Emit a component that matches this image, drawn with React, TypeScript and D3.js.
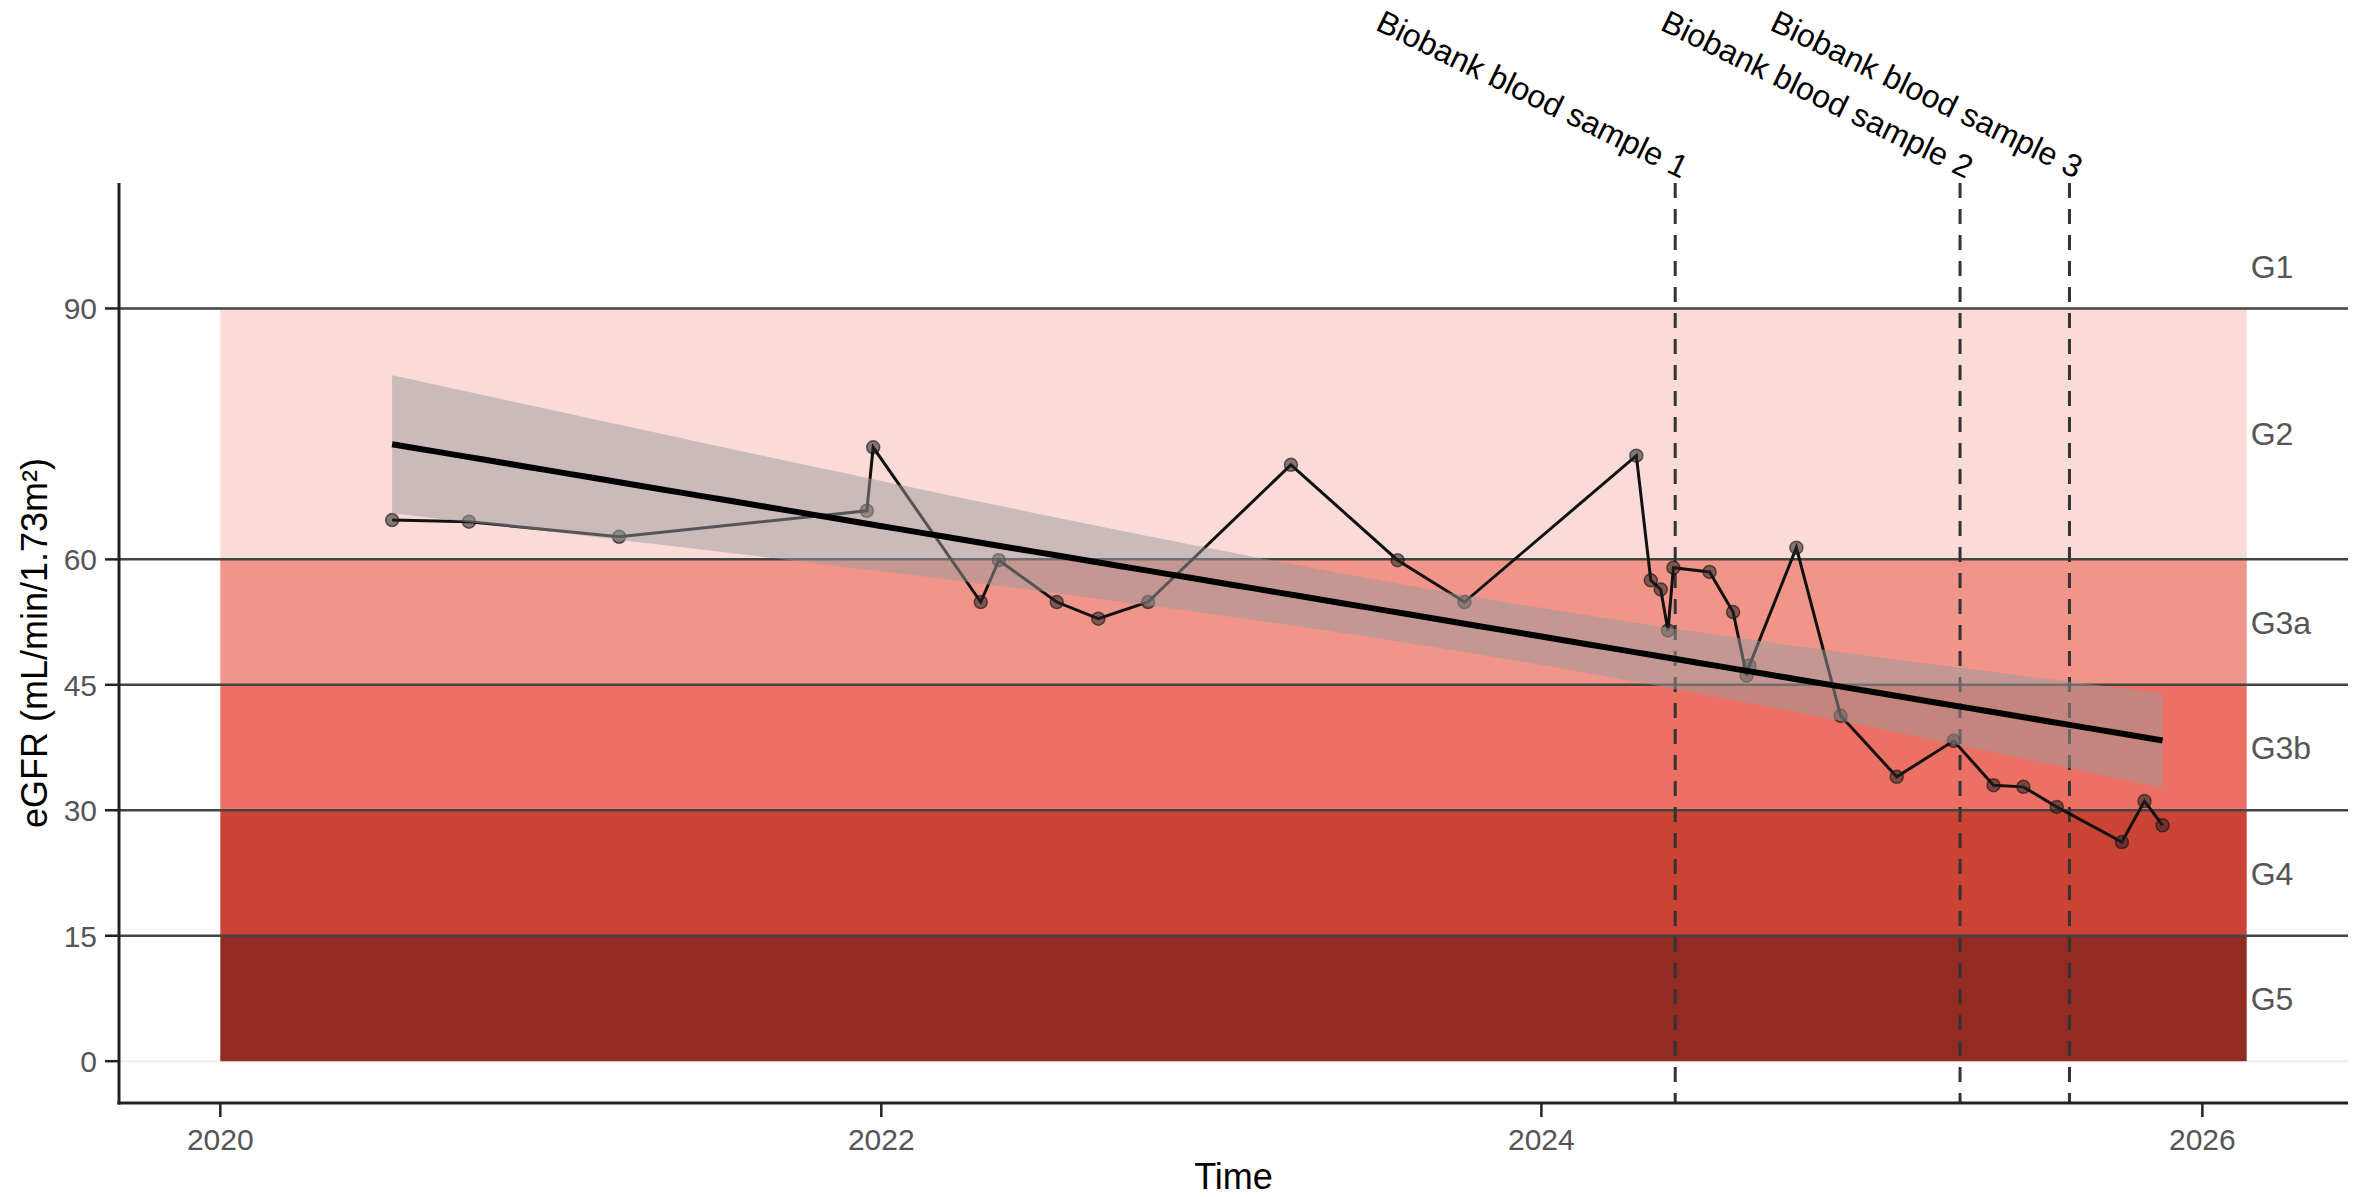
import React from "react";
import * as d3 from "d3";

// eGFR measurements (date, mL/min/1.73m²)
const DATES = [
  "2020-07-09", "2020-10-02", "2021-03-17", "2021-12-16", "2021-12-23",
  "2022-04-21", "2022-05-11", "2022-07-14", "2022-08-29", "2022-10-23",
  "2023-03-30", "2023-07-26", "2023-10-08", "2024-04-15", "2024-05-01",
  "2024-05-12", "2024-05-20", "2024-05-26", "2024-07-05", "2024-07-31",
  "2024-08-15", "2024-08-18", "2024-10-09", "2024-11-27", "2025-01-28",
  "2025-04-01", "2025-05-15", "2025-06-17", "2025-07-24", "2025-10-04",
  "2025-10-29", "2025-11-18",
];
const EGFR = [
  64.7, 64.5, 62.7, 65.8, 73.4,
  54.9, 59.9, 54.9, 52.9, 54.9,
  71.3, 59.9, 54.9, 72.4, 57.5,
  56.4, 51.5, 59.0, 58.5, 53.7,
  46.1, 47.3, 61.4, 41.3, 34.0,
  38.3, 33.0, 32.8, 30.4, 26.2,
  31.1, 28.2,
];

// CKD stage bands
const STAGES = ["G1", "G2", "G3a", "G3b", "G4", "G5"];
const STAGE_LOW = [90, 60, 45, 30, 15, 0];
const STAGE_HIGH = [100, 90, 60, 45, 30, 15];
const STAGE_COLORS = ["none", "#FADBD8", "#F1948A", "#EC7063", "#CB4335", "#922B21"];
const BAND_START = "2020-01-01";
const BAND_END = "2026-02-19";
const STAGE_LINES = [15, 30, 45, 60, 90];

const SAMPLE_DATES = ["2024-05-28", "2025-04-08", "2025-08-07"];
const SAMPLE_LABELS = [
  "Biobank blood sample 1",
  "Biobank blood sample 2",
  "Biobank blood sample 3",
];

const Y_TICKS = [0, 15, 30, 45, 60, 90];

const W = 2366;
const H = 1197;
const margin = { top: 183, right: 18, bottom: 94, left: 119 };
const FONT = "Liberation Sans, Arial, Helvetica, sans-serif";
const T_975 = 2.042; // t quantile, df = n - 2 = 30

const parse = d3.timeParse("%Y-%m-%d");
const YEAR_MS = 365.25 * 24 * 3600 * 1000;

function fitLm(xs: number[], ys: number[]) {
  const n = xs.length;
  const mx = d3.mean(xs) as number;
  const my = d3.mean(ys) as number;
  let sxx = 0, sxy = 0;
  for (let i = 0; i < n; i++) {
    sxx += (xs[i] - mx) ** 2;
    sxy += (xs[i] - mx) * (ys[i] - my);
  }
  const b = sxy / sxx;
  const a = my - b * mx;
  let sse = 0;
  for (let i = 0; i < n; i++) sse += (ys[i] - a - b * xs[i]) ** 2;
  const s = Math.sqrt(sse / (n - 2));
  return { a, b, s, mx, sxx, n };
}

const App = () => {
  const data = DATES.map((d, i) => ({ date: parse(d) as Date, v: EGFR[i] }));
  const bandStart = parse(BAND_START) as Date;
  const bandEnd = parse(BAND_END) as Date;
  const span = +bandEnd - +bandStart;

  const x = d3
    .scaleTime()
    .domain([new Date(+bandStart - span * 0.05), new Date(+bandEnd + span * 0.05)])
    .range([margin.left, W - margin.right]);
  const y = d3.scaleLinear().domain([-5, 105]).range([H - margin.bottom, margin.top]);

  const x0 = margin.left;
  const x1 = W - margin.right;
  const y0 = H - margin.bottom;
  const y1 = margin.top;

  // linear fit with 95% confidence band, like geom_smooth(method = "lm")
  const xs = data.map((d) => +d.date / YEAR_MS);
  const ys = data.map((d) => d.v);
  const fit = fitLm(xs, ys);
  const xmin = d3.min(xs) as number;
  const xmax = d3.max(xs) as number;
  const grid = d3.range(0, 81).map((i) => xmin + ((xmax - xmin) * i) / 80);
  const band = grid.map((t) => {
    const yhat = fit.a + fit.b * t;
    const se = fit.s * Math.sqrt(1 / fit.n + (t - fit.mx) ** 2 / fit.sxx);
    return { t, yhat, lo: yhat - T_975 * se, hi: yhat + T_975 * se };
  });

  const tx = (t: number) => x(new Date(t * YEAR_MS));
  const area = d3
    .area<{ t: number; lo: number; hi: number }>()
    .x((d) => tx(d.t))
    .y0((d) => y(d.lo))
    .y1((d) => y(d.hi));
  const fitLine = d3
    .line<{ t: number; yhat: number }>()
    .x((d) => tx(d.t))
    .y((d) => y(d.yhat));
  const dataLine = d3
    .line<{ date: Date; v: number }>()
    .x((d) => x(d.date))
    .y((d) => y(d.v));

  const xTicks = x.ticks(d3.timeYear.every(2) as any);
  const fmt = d3.timeFormat("%Y");

  return (
    <svg
      width={W}
      height={H}
      style={{ position: "absolute", left: 0, top: 0, background: "#fff" }}
      fontFamily={FONT}
    >
      {/* grid */}
      {Y_TICKS.map((t) => (
        <line key={"g" + t} x1={x0} x2={x1} y1={y(t)} y2={y(t)} stroke="#EBEBEB" strokeWidth={2} />
      ))}

      {/* stage bands */}
      {STAGES.map((s, i) => (
        <rect
          key={s}
          x={x(bandStart)}
          width={x(bandEnd) - x(bandStart)}
          y={y(STAGE_HIGH[i])}
          height={y(STAGE_LOW[i]) - y(STAGE_HIGH[i])}
          fill={STAGE_COLORS[i]}
        />
      ))}

      {STAGE_LINES.map((v) => (
        <line key={"h" + v} x1={x0} x2={x1} y1={y(v)} y2={y(v)} stroke="#444" strokeWidth={2.5} />
      ))}

      {/* sample markers */}
      {SAMPLE_DATES.map((d) => {
        const xv = x(parse(d) as Date);
        return (
          <line key={d} x1={xv} x2={xv} y1={y1} y2={y0} stroke="#333" strokeWidth={3} strokeDasharray="15 11" />
        );
      })}

      {/* measurements */}
      <path d={dataLine(data) as string} fill="none" stroke="#111" strokeWidth={3} />
      {data.map((d, i) => (
        <circle
          key={i}
          cx={x(d.date)}
          cy={y(d.v)}
          r={6.5}
          fill="#222"
          fillOpacity={0.55}
          stroke="#111"
          strokeOpacity={0.6}
          strokeWidth={1.5}
        />
      ))}

      {/* regression */}
      <path d={area(band) as string} fill="#999999" fillOpacity={0.5} />
      <path d={fitLine(band) as string} fill="none" stroke="#000" strokeWidth={6} />

      {/* axes */}
      <line x1={x0} x2={x0} y1={y1} y2={y0 + 1.5} stroke="#222" strokeWidth={3} />
      <line x1={x0 - 1.5} x2={x1} y1={y0} y2={y0} stroke="#222" strokeWidth={3} />
      {Y_TICKS.map((t) => (
        <g key={"yt" + t}>
          <line x1={x0 - 14} x2={x0} y1={y(t)} y2={y(t)} stroke="#222" strokeWidth={2.5} />
          <text x={x0 - 22} y={y(t)} dy="0.36em" textAnchor="end" fontSize={30} fill="#555">
            {t}
          </text>
        </g>
      ))}
      {xTicks.map((t) => (
        <g key={"xt" + +t}>
          <line x1={x(t)} x2={x(t)} y1={y0} y2={y0 + 14} stroke="#222" strokeWidth={2.5} />
          <text x={x(t)} y={y0 + 47} textAnchor="middle" fontSize={30} fill="#555">
            {fmt(t)}
          </text>
        </g>
      ))}
      <text x={(x0 + x1) / 2} y={H - 8} textAnchor="middle" fontSize={36} fill="#000">
        Time
      </text>
      <text
        transform={`translate(47, ${(y0 + y1) / 2}) rotate(-90)`}
        textAnchor="middle"
        fontSize={36}
        fill="#000"
      >
        eGFR (mL/min/1.73m²)
      </text>

      {/* stage labels */}
      {STAGES.map((s, i) => (
        <text
          key={"l" + s}
          x={x(bandEnd) + 4}
          y={y((STAGE_LOW[i] + STAGE_HIGH[i]) / 2)}
          dy="0.36em"
          fontSize={32}
          fill="#555"
        >
          {s}
        </text>
      ))}

      {/* sample annotations */}
      {SAMPLE_DATES.map((d, i) => {
        const xv = x(parse(d) as Date);
        return (
          <text
            key={"s" + d}
            transform={`translate(${xv + 6}, ${y1 - 4}) rotate(26)`}
            textAnchor="end"
            fontSize={32}
            fill="#000"
          >
            {SAMPLE_LABELS[i]}
          </text>
        );
      })}
    </svg>
  );
};

export default App;
